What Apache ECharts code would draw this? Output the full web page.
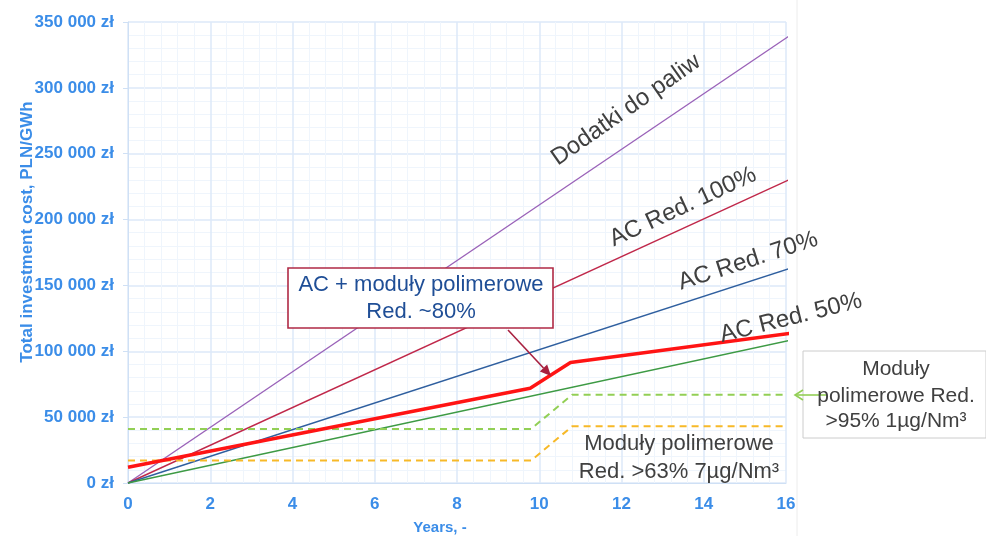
<!DOCTYPE html>
<html>
<head>
<meta charset="utf-8">
<script src="https://cdn.jsdelivr.net/npm/echarts@6/dist/echarts.min.js"></script>
<style>
  html, body { margin: 0; padding: 0; background: #fff; }
  #chart { width: 986px; height: 536px; }
</style>
</head>
<body>
<div id="chart"></div>
<script>
// dane
const lineYears = [0, 16.2];
const dodatki = [0, 342000];
const acRed100 = [0, 232000];
const acRed70 = [0, 164000];
const acRed50 = [0, 109000];
const polyYears = [0, 9.78, 10.76, 16.2];
const acPoly80 = [12000, 72000, 91500, 114000];
const dashYears = [0, 9.8, 10.8, 16.1];
const poly95 = [41000, 41000, 67000, 67000];
const poly63 = [17000, 17000, 43000, 43000];
const yTicks = [0, 50000, 100000, 150000, 200000, 250000, 300000, 350000];

const blue = '#3b8de8';
const grey = '#404040';
const font = '"Liberation Sans", Arial, sans-serif';

function pairs(xs, ys) {
  return xs.map((x, i) => [x, ys[i]]);
}
function fmtZl(v) {
  return String(v).replace(/\B(?=(\d{3})+(?!\d))/g, ' ') + ' zł';
}
function txt(x, y, text, fontSpec, color, deg) {
  return {
    type: 'text', x: x, y: y, rotation: (deg || 0) * Math.PI / 180, z: 100,
    style: {
      text: text, font: fontSpec + ' ' + font, fill: color,
      textAlign: 'center', textVerticalAlign: 'middle', align: 'center', verticalAlign: 'middle'
    }
  };
}
// strzalka z wypelnionym grotem
function arrow(x1, y1, x2, y2, color) {
  const dx = x2 - x1, dy = y2 - y1, len = Math.sqrt(dx * dx + dy * dy);
  const ux = dx / len, uy = dy / len, h = 11, w = 5;
  const bx = x2 - ux * h, by = y2 - uy * h;
  return [
    { type: 'line', z: 100, shape: { x1: x1, y1: y1, x2: bx, y2: by }, style: { stroke: color, lineWidth: 1.6 } },
    { type: 'polygon', z: 100, shape: { points: [[x2, y2], [bx - uy * w, by + ux * w], [bx + uy * w, by - ux * w]] }, style: { fill: color } }
  ];
}

const chart = echarts.init(document.getElementById('chart'));

const thin = (name, data, color) => ({
  name: name, type: 'line', data: data, showSymbol: false, clip: false,
  lineStyle: { color: color, width: 1.4 }, itemStyle: { color: color }
});

chart.setOption({
  animation: false,
  backgroundColor: '#fff',
  grid: { left: 128, right: 200, top: 22, bottom: 53, outerBoundsMode: 'none', containLabel: false },
  xAxis: {
    type: 'value', min: 0, max: 16, interval: 2,
    name: 'Years, -', nameLocation: 'middle', nameGap: 37,
    nameTextStyle: { color: blue, fontWeight: 'bold', fontSize: 15, fontFamily: font, padding: [0, 34, 0, 0] },
    axisLine: { show: true, lineStyle: { color: '#cfe0f5' } },
    axisTick: { show: false },
    axisLabel: { color: blue, fontWeight: 'bold', fontSize: 17, fontFamily: font, margin: 13 },
    splitLine: { show: true, lineStyle: { color: '#dce8f8', width: 1.5 } },
    minorTick: { show: false, splitNumber: 5 },
    minorSplitLine: { show: true, lineStyle: { color: '#eff5fc', width: 1 } }
  },
  yAxis: {
    type: 'value', min: yTicks[0], max: yTicks[yTicks.length - 1], interval: 50000,
    axisLine: { show: true, lineStyle: { color: '#cfe0f5' } },
    axisTick: { show: true, length: 5, lineStyle: { color: '#cfe0f5' } },
    axisLabel: { color: blue, fontWeight: 'bold', fontSize: 17, fontFamily: font, margin: 14, formatter: fmtZl },
    splitLine: { show: true, lineStyle: { color: '#dce8f8', width: 1.5 } },
    minorTick: { show: false, splitNumber: 5 },
    minorSplitLine: { show: true, lineStyle: { color: '#eff5fc', width: 1 } }
  },
  series: [
    thin('Dodatki do paliw', pairs(lineYears, dodatki), '#9a62b8'),
    thin('AC Red. 100%', pairs(lineYears, acRed100), '#c0284a'),
    thin('AC Red. 70%', pairs(lineYears, acRed70), '#2f5f9f'),
    thin('AC Red. 50%', pairs(lineYears, acRed50), '#3d9a44'),
    {
      name: 'Moduły polimerowe Red. >95%', type: 'line', data: pairs(dashYears, poly95),
      showSymbol: false, clip: false, lineStyle: { color: '#92cf55', width: 2, type: [7, 5] }
    },
    {
      name: 'Moduły polimerowe Red. >63%', type: 'line', data: pairs(dashYears, poly63),
      showSymbol: false, clip: false, lineStyle: { color: '#f7b928', width: 2, type: [7, 5] }
    },
    {
      name: 'AC + moduły polimerowe Red. ~80%', type: 'line', data: pairs(polyYears, acPoly80),
      showSymbol: false, clip: false, z: 5, lineStyle: { color: '#ff1414', width: 3.5 }
    }
  ],
  graphic: [
    txt(27, 232, 'Total investment cost, PLN/GWh', 'bold 17px', blue, 90),
    { type: 'line', shape: { x1: 797, y1: 0, x2: 797, y2: 536 }, style: { stroke: '#ececec', lineWidth: 1 } },
    txt(626, 110, 'Dodatki do paliw', '24px', grey, 35),
    txt(683, 207, 'AC Red. 100%', '24px', grey, 25),
    txt(748, 261, 'AC Red. 70%', '24px', grey, 18),
    txt(791, 318, 'AC Red. 50%', '24px', grey, 14),
    { type: 'rect', z: 99, shape: { x: 288, y: 268, width: 265, height: 60 }, style: { fill: '#fff', stroke: '#b02a45', lineWidth: 1.6 } },
    txt(421, 285, 'AC + moduły polimerowe', '22px', '#1f4e96', 0),
    txt(421, 312, 'Red. ~80%', '22px', '#1f4e96', 0),
    ...arrow(508, 330, 551, 376, '#a8203f'),
    { type: 'rect', z: 99, shape: { x: 803, y: 351, width: 183, height: 87 }, style: { fill: '#fff', stroke: '#cccccc', lineWidth: 1 } },
    { type: 'line', z: 100, shape: { x1: 826, y1: 395, x2: 795, y2: 395 }, style: { stroke: '#92cf55', lineWidth: 1.6 } },
    { type: 'polyline', z: 100, shape: { points: [[803, 390], [795, 395], [803, 400]] }, style: { stroke: '#92cf55', lineWidth: 1.6, fill: null } },
    txt(896, 369, 'Moduły', '21px', grey, 0),
    txt(896, 396, 'polimerowe Red.', '21px', grey, 0),
    txt(896, 421, '>95% 1µg/Nm³', '21px', grey, 0),
    txt(679, 444, 'Moduły polimerowe', '22px', grey, 0),
    txt(679, 472, 'Red. >63% 7µg/Nm³', '22px', grey, 0)
  ]
});
</script>
</body>
</html>
